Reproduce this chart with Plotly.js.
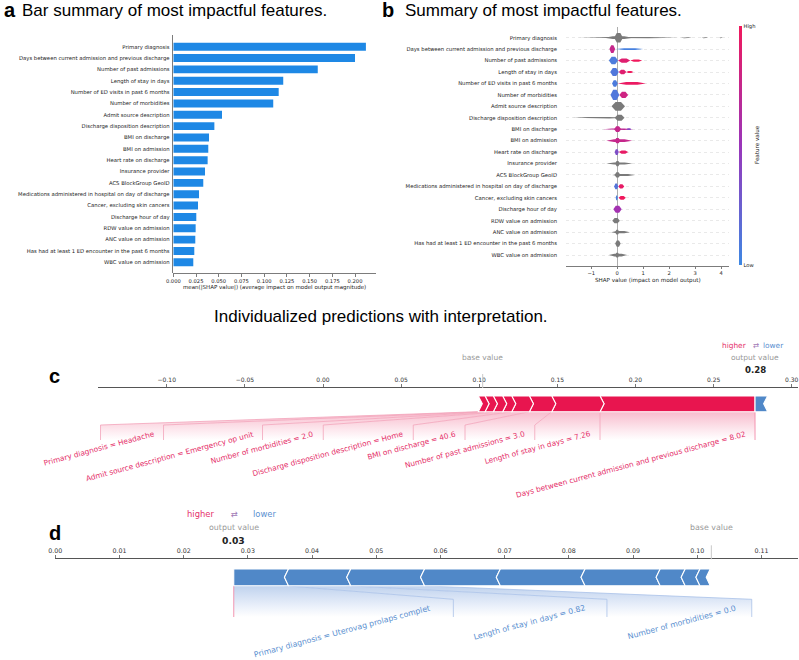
<!DOCTYPE html>
<html><head><meta charset="utf-8">
<script src="https://cdn.plot.ly/plotly-3.0.1.min.js"></script>
<style>html,body{margin:0;padding:0;background:#fff}#chart{width:799px;height:660px}</style>
</head><body><div id="chart"></div>
<script>
// ---------------- DATA ----------------
const features = ['Primary diagnosis','Days between current admission and previous discharge','Number of past admissions','Length of stay in days','Number of ED visits in past 6 months','Number of morbidities','Admit source description','Discharge disposition description','BMI on discharge','BMI on admission','Heart rate on discharge','Insurance provider','ACS BlockGroup GeoID','Medications administered in hospital on day of discharge','Cancer, excluding skin cancers','Discharge hour of day','RDW value on admission','ANC value on admission','Has had at least 1 ED encounter in the past 6 months','WBC value on admission'];

// panel a: mean(|SHAP value|)
const meanAbsShap = [0.212,0.200,0.159,0.121,0.116,0.110,0.0536,0.0452,0.0393,0.0385,0.0378,0.0349,0.0330,0.0283,0.0272,0.0253,0.0246,0.0242,0.0231,0.0220];

// panel b: spread of SHAP values per feature: [shapLow, shapHigh, pointDensity(0-1), featureValueLevel (null = categorical)]
const swarmSpread = [
  [[-1.5,2.35,0.05,null],[-0.5,0.6,0.25,null],[-0.12,0.22,0.85,null],[2.45,2.87,0.02,null],[3.24,3.5,0.02,null],[3.92,4.05,0.02,null]],
  [[-0.05,1.0,0.15,0.05],[-0.3,-0.08,0.7,0.75]],
  [[-0.32,0.03,0.7,0.08],[0.03,0.5,0.4,0.9],[0.5,0.96,0.2,1]],
  [[-0.27,0.06,0.75,0.1],[0.06,0.35,0.45,0.9],[0.35,0.62,0.15,1]],
  [[-0.2,0.02,0.6,0.08],[0.02,1.1,0.25,0.97]],
  [[-0.26,0.08,0.9,0.1],[0.08,0.42,0.6,0.8]],
  [[-0.22,0.3,0.8,null]],
  [[-1.72,0.3,0.08,null],[-0.1,0.28,0.55,null]],
  [[-0.55,0.62,0.08,0.7],[-0.12,0.15,0.55,0.75],[0.35,0.55,0.12,0.4]],
  [[-0.42,0.58,0.25,0.75],[-0.1,0.12,0.5,0.75]],
  [[-0.1,0.06,0.55,0.35],[0.06,0.42,0.3,0.95]],
  [[-0.42,0.59,0.15,null],[-0.08,0.1,0.5,null]],
  [[-0.2,0.68,0.15,null],[-0.1,0.12,0.5,null]],
  [[-0.12,0.04,0.55,0.12],[0.04,0.27,0.4,0.95]],
  [[-0.06,0.02,0.45,0.05],[0.05,0.33,0.35,1]],
  [[-0.15,0.17,0.65,0.55]],
  [[-0.19,0.1,0.5,null]],
  [[-0.24,0.49,0.2,null],[-0.08,0.08,0.45,null]],
  [[-0.08,0.13,0.6,null]],
  [[-0.32,0.38,0.25,null],[-0.08,0.08,0.45,null]]
];
const colorbarTicks = ['Low','High'];

// panels c, d: force plots (effects ordered outward from the output value)
const baseValue = 0.1022;
const cOutput = 0.2765;
const cPosNames = ['Days between current admission and previous discharge = 8.02','Length of stay in days = 7.26','Number of past admissions = 3.0','BMI on discharge = 40.6','Discharge disposition description = Home','Number of morbidities = 2.0','Admit source description = Emergency op unit','Primary diagnosis = Headache'];
const cPosEffects = [0.0992,0.0309,0.0143,0.0113,0.0058,0.0060,0.0053,0.0043];
const cNegNames = [''];
const cNegEffects = [0.0055];

const dOutput = 0.0278;
const dPosNames = [];
const dPosEffects = [];
const dNegNames = ['Primary diagnosis = Uterovag prolaps complet','Length of stay in days = 0.82','Number of morbidities = 0.0','','','','','',''];
const dNegEffects = [0.0079,0.0097,0.0115,0.0118,0.0132,0.0117,0.0039,0.0023,0.0016];

// ---------------- LAYOUT HELPERS ----------------
const W=799,H=660;
const fx=p=>p/W, fy=p=>1-p/H;
const FONT='DejaVu Sans, sans-serif';
const HFONT='Liberation Sans, Arial, sans-serif';
const POS='#e8154f', NEG='#5088c8', POS_TXT='#e5306a', NEG_TXT='#5a8fd0';
const featureScale=[[0,'#3d88e3'],[0.5,'#9a35ba'],[1,'#f0185c']];
function hex(h){return [1,3,5].map(i=>parseInt(h.slice(i,i+2),16));}
function scaleColor(v){
  for(let i=1;i<featureScale.length;i++){
    const [p1,c1]=featureScale[i],[p0,c0]=featureScale[i-1];
    if(v<=p1){const t=(v-p0)/(p1-p0),a=hex(c0),b=hex(c1);return 'rgb('+a.map((x,j)=>Math.round(x+(b[j]-x)*t)).join(',')+')';}
  }
  return featureScale[featureScale.length-1][1];
}
const traces=[], annotations=[], shapes=[];
function txt(text,x,y,size,color,o){annotations.push(Object.assign({xref:'paper',yref:'paper',x:fx(x),y:fy(y),text,showarrow:false,xanchor:'center',yanchor:'middle',font:{family:FONT,size,color}},o||{}));}

// ---------------- PANEL A ----------------
const idx=features.map((_,i)=>i);
traces.push({type:'bar',orientation:'h',x:meanAbsShap,y:idx,xaxis:'x',yaxis:'y',width:0.7,marker:{color:'#1e88e5',line:{width:0}},hoverinfo:'skip',showlegend:false});

// ---------------- PANEL B ----------------
const bDom=[26.7,266], bRange=[19.96,-0.96];
const rowPx=(bDom[1]-bDom[0])/(bRange[0]-bRange[1]);
const segs=[];
swarmSpread.forEach((row,r)=>row.forEach(s=>segs.push({r,lo:s[0],hi:s[1],d:s[2],lvl:s[3]})));
segs.sort((a,b)=>a.d-b.d);
segs.forEach(s=>{
  const hy=(1+Math.pow(s.d,1.3)*10.5)/2/rowPx, t=(s.hi-s.lo)*0.3;
  traces.push({type:'scatter',mode:'lines',xaxis:'x2',yaxis:'y2',
    x:[s.lo,s.lo+t,s.hi-t,s.hi,s.hi-t,s.lo+t,s.lo],
    y:[s.r,s.r-hy,s.r-hy,s.r,s.r+hy,s.r+hy,s.r],
    fill:'toself',fillcolor:s.lvl===null?'#7a7a7a':scaleColor(s.lvl),line:{width:0},hoverinfo:'skip',showlegend:false});
});
traces.push({type:'scatter',mode:'markers',x:[0,0],y:[0,0],xaxis:'x2',yaxis:'y2',hoverinfo:'skip',showlegend:false,
  marker:{opacity:0,color:[0,1],cmin:0,cmax:1,colorscale:featureScale,showscale:true,
    colorbar:{thickness:2.5,len:(265-26)/H,lenmode:'fraction',y:fy((26+265)/2),yanchor:'middle',x:fx(738.5),xanchor:'left',xpad:0,ypad:0,outlinewidth:0,
      tickvals:[0,1],ticktext:colorbarTicks,ticks:'',tickfont:{family:FONT,size:5.2,color:'#222'}}}});

// ---------------- PANELS C, D ----------------
function poly(xs,ys,cfg,fill,extra){return Object.assign({type:'scatter',mode:'lines',x:xs,y:ys,xaxis:cfg.xa,yaxis:cfg.ya,fill:'toself',fillcolor:fill,line:{width:0},hoverinfo:'skip',showlegend:false},extra||{});}
function force(cfg){
  const Y=p=>-(p-cfg.axisY);
  const top=Y(cfg.barTop),bot=Y(cfg.barBot),mid=(top+bot)/2,conn=Y(cfg.conn),boxBot=Y(cfg.boxBot),tY=Y(cfg.textTop);
  const k=cfg.k,w=cfg.chev*k,o=cfg.output;
  const fans=[],bars=[],plx=[],ply=[],nlx=[],nly=[];
  const bl={color:'#fff',width:1.1};
  let S=o,R=o;
  cfg.posEff.forEach((e,i)=>{
    const x1=S,x0=S-e;
    const xs=i===0?[x0,x1,x1,x0,x0+w,x0]:[x0,x1,x1+w,x1,x0,x0+w,x0];
    const ys=i===0?[top,top,bot,bot,mid,top]:[top,top,mid,bot,bot,mid,top];
    bars.push(poly(xs,ys,cfg,POS,{line:bl}));
    const name=cfg.posNames[i];
    if(name){
      const bw=Math.max(e,cfg.boxPx(name.length)*k);
      fans.push(poly([x0,x1,R,R,R-bw,R-bw,x0],[bot,bot,conn,boxBot,boxBot,conn,bot],cfg,'#fbe2ea',
        {fillgradient:{type:'vertical',colorscale:[[0,'#ffffff'],[0.35,'#fde9ef'],[1,'#f8bccd']]}}));
      plx.push(x0,R-bw,R-bw,null);ply.push(bot,conn,boxBot,null);
      annotations.push({xref:cfg.xa,yref:cfg.ya,x:R-cfg.posTextOff*k,y:tY,xanchor:'right',yanchor:'top',textangle:-15,text:name,showarrow:false,font:{family:FONT,size:cfg.labelSize,color:POS_TXT}});
      R-=bw;
    }
    S=x0;
  });
  S=o;let L=o;
  cfg.negEff.forEach((e,i)=>{
    const x0=S,x1=S+e;
    const xs=i===0?[x0,x1+w,x1,x1+w,x0,x0]:[x0+w,x1+w,x1,x1+w,x0+w,x0,x0+w];
    const ys=i===0?[top,top,mid,bot,bot,top]:[top,top,mid,bot,bot,mid,top];
    bars.push(poly(xs,ys,cfg,NEG,{line:bl}));
    const name=cfg.negNames[i];
    if(name){
      const bw=Math.max(e,cfg.boxPx(name.length)*k);
      fans.push(poly([x0,x1,L+bw,L+bw,L,L,x0],[bot,bot,conn,boxBot,boxBot,conn,bot],cfg,'#e3ecf8',
        {fillgradient:{type:'vertical',colorscale:[[0,'#ffffff'],[0.35,'#eaf0fa'],[1,'#bfd2ee']]}}));
      nlx.push(x1,L+bw,L+bw,null);nly.push(bot,conn,boxBot,null);
      annotations.push({xref:cfg.xa,yref:cfg.ya,x:L+cfg.negTextOff*k,y:tY,xanchor:'left',yanchor:'top',textangle:-15,text:name,showarrow:false,font:{family:FONT,size:cfg.labelSize,color:NEG_TXT}});
      L+=bw;
    }
    S=x1;
  });
  fans.forEach(t=>traces.push(t));
  traces.push({type:'scatter',mode:'lines',x:plx,y:ply,xaxis:cfg.xa,yaxis:cfg.ya,line:{color:'#f3a3ba',width:0.8},hoverinfo:'skip',showlegend:false});
  traces.push({type:'scatter',mode:'lines',x:nlx,y:nly,xaxis:cfg.xa,yaxis:cfg.ya,line:{color:'#a9c2e8',width:0.8},hoverinfo:'skip',showlegend:false});
  traces.push({type:'scatter',mode:'lines',x:[o,o],y:[bot,boxBot],xaxis:cfg.xa,yaxis:cfg.ya,line:{color:'#f28aa8',width:0.9},hoverinfo:'skip',showlegend:false});
  bars.forEach(t=>traces.push(t));
  // header texts
  const h=cfg.hdr, xa=cfg.xa;
  const A=(text,x,y,size,color,o2)=>annotations.push(Object.assign({xref:xa,yref:'paper',x,y:fy(y),text,showarrow:false,xanchor:'center',yanchor:'middle',font:{family:FONT,size,color}},o2||{}));
  A('base value',cfg.base,h.label,h.labelSize,'#999');
  A('output value',o,h.label,h.labelSize,'#999');
  A(o.toFixed(2),o,h.num,h.numSize,'#222',{font:{family:FONT,size:h.numSize,color:'#222',weight:'bold'}});
  A('higher',o-h.hiOff*k,h.hl,h.hlSize,POS_TXT,{xanchor:'right'});
  A('lower',o+h.loOff*k,h.hl,h.hlSize,NEG_TXT,{xanchor:'left'});
  A('⇄',o+h.arOff*k,h.hl,h.hlSize,'#9f78b6');
  shapes.push({type:'line',xref:xa,yref:'paper',x0:cfg.base,x1:cfg.base,y0:fy(cfg.axisY),y1:fy(cfg.axisY-14),line:{color:'#c8c8c8',width:1}});
}
const cDom=[98,798], cRange=[-0.144,0.304];
const dDom=[55.3,798], dRange=[0,0.1157];
force({xa:'x3',ya:'y3',k:(cRange[1]-cRange[0])/(cDom[1]-cDom[0]),output:cOutput,base:baseValue,
  posNames:cPosNames,posEff:cPosEffects,negNames:cNegNames,negEff:cNegEffects,
  axisY:388,barTop:396,barBot:411.7,conn:425,boxBot:440,textTop:427,chev:4,
  boxPx:n=>n*2.25,posTextOff:6,negTextOff:17,labelSize:7.4,
  hdr:{label:357.3,labelSize:7.5,num:369.5,numSize:8.6,hl:345,hlSize:7.4,hiOff:6,loOff:6,arOff:0.5}});
force({xa:'x4',ya:'y4',k:(dRange[1]-dRange[0])/(dDom[1]-dDom[0]),output:dOutput,base:baseValue,
  posNames:dPosNames,posEff:dPosEffects,negNames:dNegNames,negEff:dNegEffects,
  axisY:559.3,barTop:569,barBot:585.7,conn:599.3,boxBot:617,textTop:601,chev:4,
  boxPx:n=>26+n*4.4,posTextOff:6,negTextOff:17,labelSize:7.8,
  hdr:{label:527,labelSize:7.9,num:540,numSize:9.2,hl:513.7,hlSize:8.4,hiOff:18,loOff:17,arOff:1}});

// ---------------- TITLES ----------------
txt('<b>a</b>',2,9.7,20,'#000',{xanchor:'left',font:{family:HFONT,size:20,color:'#000'}});
txt('Bar summary of most impactful features.',20,10.7,17,'#000',{xanchor:'left',font:{family:HFONT,size:17,color:'#000'}});
txt('<b>b</b>',380,9.7,20,'#000',{xanchor:'left',font:{family:HFONT,size:20,color:'#000'}});
txt('Summary of most impactful features.',403,10.7,17,'#000',{xanchor:'left',font:{family:HFONT,size:17,color:'#000'}});
txt('Individualized predictions with interpretation.',381,316.7,17,'#000',{font:{family:HFONT,size:17,color:'#000'}});
txt('<b>c</b>',47,375.7,20,'#000',{xanchor:'left',font:{family:HFONT,size:20,color:'#000'}});
txt('<b>d</b>',47,533,20,'#000',{xanchor:'left',font:{family:HFONT,size:20,color:'#000'}});
txt('mean(|SHAP value|) (average impact on model output magnitude)',274.5,287,5.5,'#222');
txt('SHAP value (impact on model output)',647.6,280.5,5.6,'#222');
txt('Feature value',757,145,5.6,'#222',{textangle:-90});

const tf={family:FONT,size:5.2,color:'#222'};
const layout={
  width:W,height:H,margin:{l:0,r:0,t:0,b:0},paper_bgcolor:'#fff',plot_bgcolor:'rgba(0,0,0,0)',showlegend:false,hovermode:false,
  xaxis:{domain:[fx(173.3),fx(376)],anchor:'y',range:[0,0.2231],dtick:0.025,tick0:0,tickformat:'.3f',ticks:'outside',ticklen:3,tickwidth:0.7,tickcolor:'#444',showline:true,linecolor:'#444',linewidth:0.7,showgrid:false,zeroline:false,tickfont:tf},
  yaxis:{domain:[fy(273),fy(35)],anchor:'x',range:[19.94,-1.03],tickvals:idx,ticktext:features,ticks:'',showline:true,linecolor:'#444',linewidth:0.7,showgrid:false,zeroline:false,tickfont:{family:FONT,size:5.3,color:'#222'},ticklabelstandoff:2},
  xaxis2:{domain:[fx(566),fx(729.3)],anchor:'y2',range:[-1.97,4.31],dtick:1,tick0:0,ticks:'outside',ticklen:2.5,tickwidth:0.7,tickcolor:'#444',showline:true,linecolor:'#444',linewidth:0.7,showgrid:false,zeroline:true,zerolinecolor:'#999',zerolinewidth:0.8,tickfont:tf},
  yaxis2:{domain:[fy(bDom[1]),fy(bDom[0])],anchor:'x2',range:bRange,tickvals:idx,ticktext:features,ticks:'',showline:false,showgrid:true,gridcolor:'#e4e4e4',griddash:'dot',gridwidth:0.8,zeroline:false,tickfont:{family:FONT,size:5.3,color:'#222'},ticklabelstandoff:8},
  xaxis3:{domain:[fx(cDom[0]),fx(cDom[1])],anchor:'y3',side:'top',range:cRange,dtick:0.05,tick0:0,tickformat:'.2f',ticks:'outside',ticklen:3,tickwidth:0.8,tickcolor:'#555',showline:true,linecolor:'#555',linewidth:1,showgrid:false,zeroline:false,tickfont:{family:FONT,size:6,color:'#333'}},
  yaxis3:{domain:[fy(500),fy(388)],anchor:'x3',range:[-112,0],visible:false},
  xaxis4:{domain:[fx(dDom[0]),fx(dDom[1])],anchor:'y4',side:'top',range:dRange,dtick:0.01,tick0:0,tickformat:'.2f',ticks:'outside',ticklen:3,tickwidth:0.8,tickcolor:'#555',showline:true,linecolor:'#555',linewidth:1,showgrid:false,zeroline:false,tickfont:{family:FONT,size:6.3,color:'#333'}},
  yaxis4:{domain:[fy(660),fy(559.3)],anchor:'x4',range:[-100.7,0],visible:false},
  annotations,shapes
};
Plotly.newPlot('chart',traces,layout,{staticPlot:true,displayModeBar:false});
</script></body></html>
